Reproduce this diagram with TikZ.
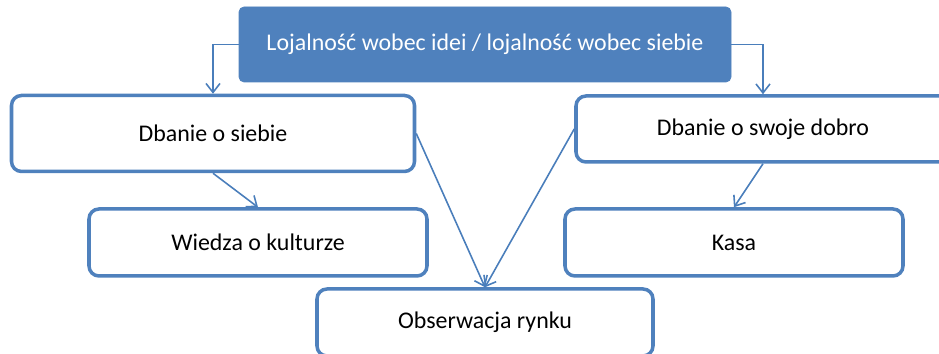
\documentclass[tikz,border=0pt]{standalone}
\usepackage{fontspec}
\setmainfont{Carlito}
\usepackage{tikz}
\usetikzlibrary{arrows.meta}
\usetikzlibrary{positioning}
\definecolor{ofblue}{HTML}{4F81BD}
\definecolor{lnblue}{HTML}{4A7EBB}

\begin{document}
\begin{tikzpicture}
	[every node/.style={font=\fontsize{13.6}{16}\selectfont},
	 kasten/.style={draw=ofblue, line width=2pt, rounded corners=0.2cm, fill=white, inner sep=0pt},
	 kopf/.style={draw=ofblue, fill=ofblue, text=white, rounded corners=0.1cm, inner sep=0pt, minimum width=9.84cm, minimum height=1.5cm},
	 pfeil/.style={draw=lnblue, line width=0.9pt, -{Straight Barb[length=1.8mm,width=2.8mm]}}]
	\useasboundingbox (0,0) rectangle (18.78,7.08);
	\node[kopf] (loj) at (9.70,6.19) {Lojalność wobec idei / lojalność wobec siebie};
	\node[kasten, minimum width=8.06cm, minimum height=1.52cm] (siebie) at (4.26,4.41) {Dbanie o siebie};
	\node[kasten, minimum width=7.48cm, minimum height=1.32cm] (dobro) at (15.26,4.50) {Dbanie o swoje dobro};
	\node[kasten, minimum width=6.76cm, minimum height=1.34cm] (wiedza) at (5.16,2.23) {Wiedza o kulturze};
	\node[kasten, minimum width=6.76cm, minimum height=1.34cm] (kasa) at (14.68,2.23) {Kasa};
	\node[kasten, minimum width=6.72cm, minimum height=1.34cm] (rynek) at (9.70,0.63) {Obserwacja rynku};
	\draw[pfeil] (loj.west) -| (siebie.north);
	\draw[pfeil] (loj.east) -| (dobro.north);
	\draw[pfeil] (siebie.south) -- (wiedza.north);
	\draw[pfeil] (siebie.east) -- (rynek.north);
	\draw[pfeil] (dobro.west) -- (rynek.north);
	\draw[pfeil] (dobro.south) -- (kasa.north);
\end{tikzpicture}
\end{document}
